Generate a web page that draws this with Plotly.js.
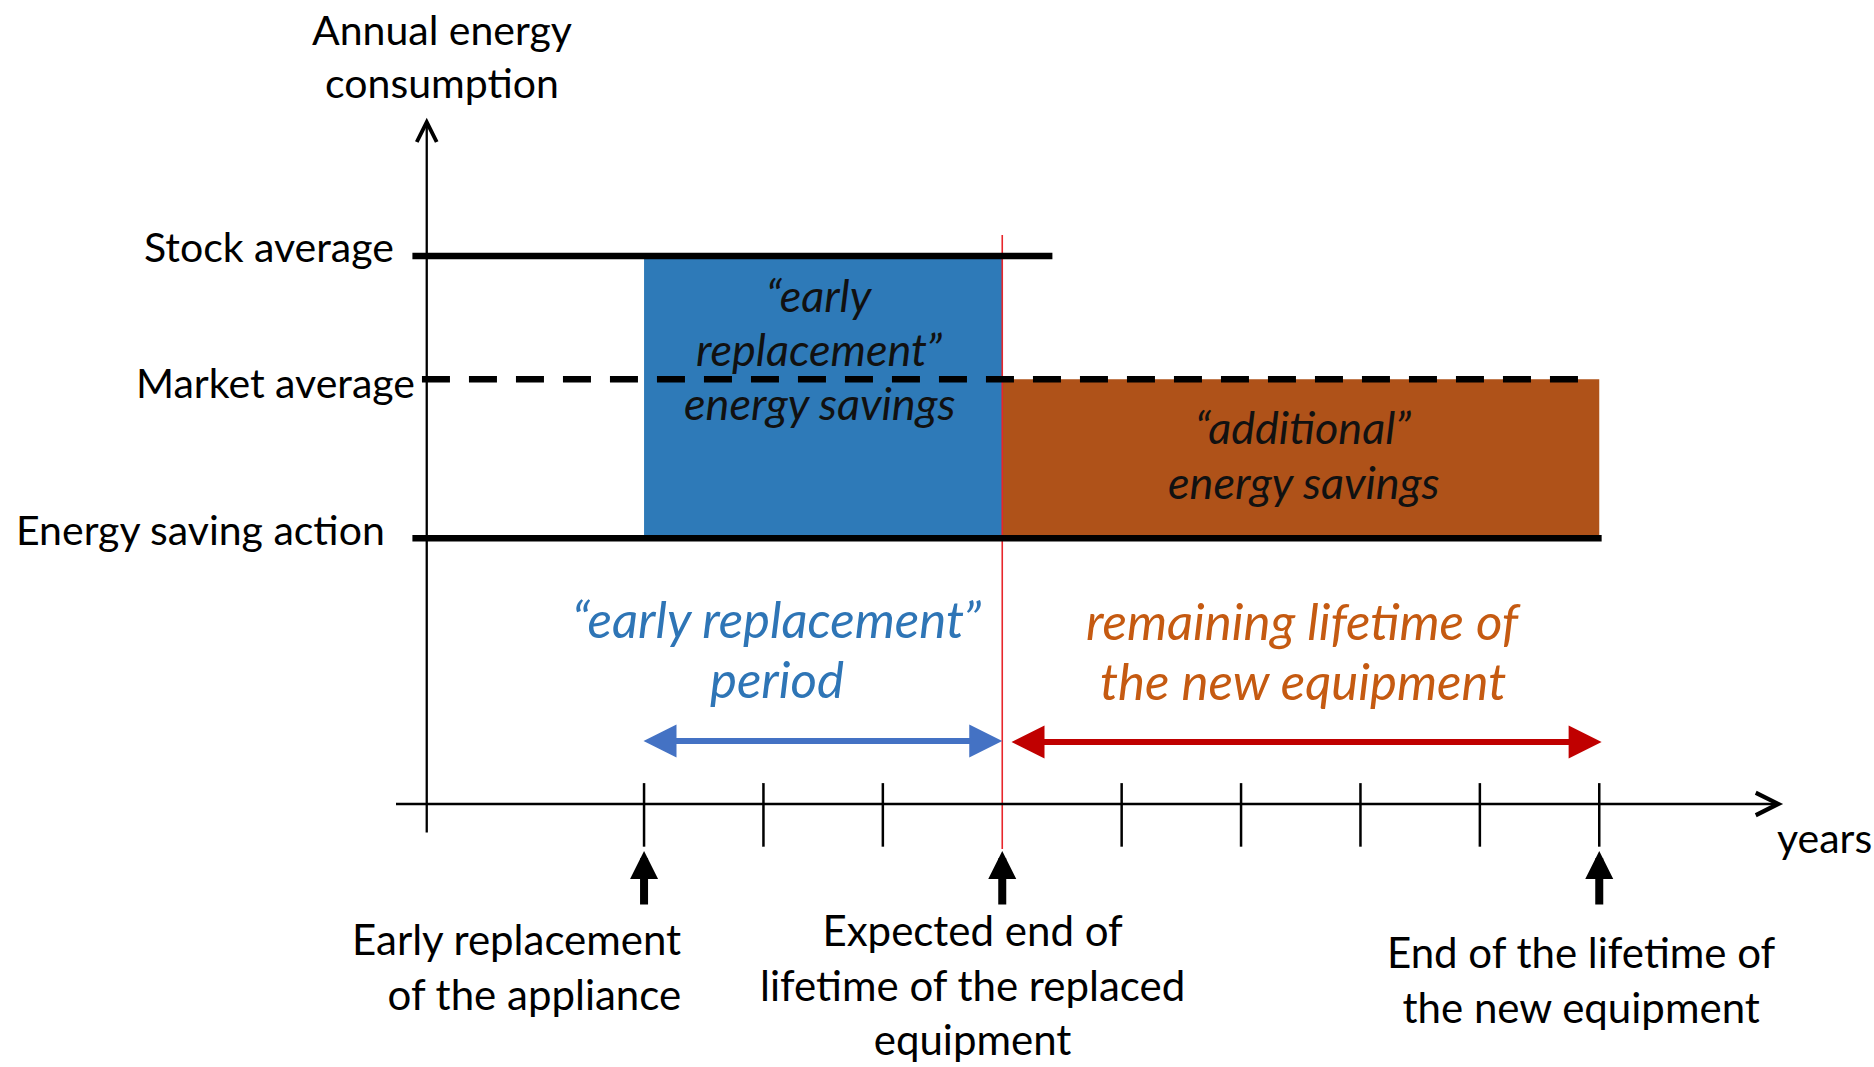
<!DOCTYPE html>
<html>
<head>
<meta charset="utf-8">
<script src="https://cdn.plot.ly/plotly-3.0.1.min.js"></script>
<style>
  html, body { margin: 0; padding: 0; background: #ffffff; }
  #chart { width: 1874px; height: 1067px; }
</style>
</head>
<body>
<div id="chart"></div>
<script>
// ---------------- DATA ----------------
// consumption levels (arbitrary units, stock average = 100)
const levelNames  = ['Stock average', 'Market average', 'Energy saving action'];
const levelValues = [100, 77.5, 48.5];
const levelStart  = [-0.94, -0.86, -0.94];   // years where each level line starts
const levelEnd    = [4.42, 8.88, 9.02];      // years where each level line ends

// time events (years)
const eventYears  = [1, 4, 9];
const eventLabels = ['Early replacement<br>of the appliance',
                     'Expected end of<br>lifetime of the replaced<br>equipment',
                     'End of the lifetime of<br>the new equipment'];
const tickYears   = [1, 2, 3, 5, 6, 7, 8, 9];

// axes extents
const yAxisAtYear = -0.82;
const yAxisRange  = [-5.5, 125.2];
const xAxisRange  = [-1.09, 10.54];

// text
const yAxisTitle  = 'Annual energy<br>consumption';
const xAxisTitle  = 'years';
const earlyBoxLines  = ['\u201cearly', 'replacement\u201d', 'energy savings'];
const addBoxLines    = ['\u201cadditional\u201d', 'energy savings'];
const earlyPeriodLines = ['\u201cearly replacement\u201d', 'period'];
const remainLines      = ['remaining lifetime of', 'the new equipment'];

// ---------------- DRAWING ----------------
const FONT = 'Lato, "Open Sans", sans-serif';
const stock = levelValues[0], market = levelValues[1], action = levelValues[2];
const tEarly = eventYears[0], tExp = eventYears[1], tEnd = eventYears[2];

const traces = [];
// blue "early replacement" area
traces.push({
  type: 'scatter', mode: 'lines', fill: 'toself',
  x: [tEarly, tExp, tExp, tEarly, tEarly],
  y: [action, action, stock, stock, action],
  line: {width: 0}, fillcolor: '#2E7AB8', hoverinfo: 'skip'
});
// orange "additional" area
traces.push({
  type: 'scatter', mode: 'lines', fill: 'toself',
  x: [tExp, tEnd, tEnd, tExp, tExp],
  y: [action, action, market, market, action],
  line: {width: 0}, fillcolor: '#AF5219', hoverinfo: 'skip'
});
// red vertical line at expected end of lifetime
traces.push({
  type: 'scatter', mode: 'lines',
  x: [tExp, tExp], y: [103.8, -8.2],
  line: {color: '#E8262B', width: 1.6}, hoverinfo: 'skip'
});
// level lines
levelValues.forEach((v, i) => {
  traces.push({
    type: 'scatter', mode: 'lines',
    x: [levelStart[i], levelEnd[i]], y: [v, v],
    line: {color: '#000000', width: 6.5, dash: i === 1 ? '28px,19px' : 'solid'},
    hoverinfo: 'skip'
  });
});
// tick marks
const tx = [], ty = [];
tickYears.forEach(t => { tx.push(t, t, null); ty.push(3.8, -7.8, null); });
traces.push({
  type: 'scatter', mode: 'lines', x: tx, y: ty,
  line: {color: '#000000', width: 2.5}, hoverinfo: 'skip'
});

const annotations = [];
// axes with arrow heads
annotations.push({
  x: yAxisAtYear, y: yAxisRange[1], ax: yAxisAtYear, ay: yAxisRange[0],
  xref: 'x', yref: 'y', axref: 'x', ayref: 'y', text: '', showarrow: true,
  arrowhead: 5, arrowsize: 1.7, arrowwidth: 2.3, arrowcolor: '#000000'
});
annotations.push({
  x: xAxisRange[1], y: 0, ax: xAxisRange[0], ay: 0,
  xref: 'x', yref: 'y', axref: 'x', ayref: 'y', text: '', showarrow: true,
  arrowhead: 5, arrowsize: 1.7, arrowwidth: 2.6, arrowcolor: '#000000'
});
// axis titles
annotations.push({
  x: -0.69, y: 136.4, xref: 'x', yref: 'y', text: yAxisTitle, showarrow: false,
  xanchor: 'center', yanchor: 'middle', align: 'center',
  font: {family: FONT, size: 41, color: '#000000'}
});
annotations.push({
  x: 10.47, y: -6.2, xref: 'x', yref: 'y', text: xAxisTitle, showarrow: false,
  xanchor: 'left', yanchor: 'middle',
  font: {family: FONT, size: 41, color: '#000000'}
});
// level labels
const labelShiftX = [-16, -5, -25];
const labelShiftY = [9, -3, 9];
levelNames.forEach((n, i) => {
  annotations.push({
    x: levelStart[i], y: levelValues[i], xref: 'x', yref: 'y', text: n,
    showarrow: false, xanchor: 'right', yanchor: 'middle',
    xshift: labelShiftX[i], yshift: labelShiftY[i],
    font: {family: FONT, size: 41, color: '#000000'}
  });
});
// helper for stacked italic text lines
function stackedLines(lines, xc, yTop, stepPx, size, color) {
  lines.forEach((ln, k) => {
    annotations.push({
      x: xc, y: yTop, xref: 'x', yref: 'y', text: '<i>' + ln + '</i>',
      showarrow: false, xanchor: 'center', yanchor: 'middle',
      yshift: -k * stepPx,
      font: {family: FONT, size: size, color: color}
    });
  });
}
// box texts
stackedLines(earlyBoxLines, 2.466, 92.9, 54, 45, '#111111');
stackedLines(addBoxLines, 6.52, 68.8, 55, 45, '#111111');
// period labels
stackedLines(earlyPeriodLines, 2.11, 33.8, 60, 51, '#2E75B6');
stackedLines(remainLines, 6.52, 33.4, 60, 51, '#C55A11');

// double-headed period arrows
annotations.push({
  x: tExp, y: 11.5, ax: 0.983, ay: 11.5,
  xref: 'x', yref: 'y', axref: 'x', ayref: 'y', text: '', showarrow: true,
  arrowside: 'end+start', arrowhead: 2, startarrowhead: 2,
  arrowsize: 1.1, startarrowsize: 1.1, arrowwidth: 6, arrowcolor: '#4472C4'
});
annotations.push({
  x: 9.02, y: 11.3, ax: 4.065, ay: 11.3,
  xref: 'x', yref: 'y', axref: 'x', ayref: 'y', text: '', showarrow: true,
  arrowside: 'end+start', arrowhead: 2, startarrowhead: 2,
  arrowsize: 1.1, startarrowsize: 1.1, arrowwidth: 6, arrowcolor: '#C00000'
});
// event arrows and labels
const evLabelX = [1.33, 3.75, 8.85];
const evLabelY = [-29.6, -33.0, -32.0];
const evAnchor = ['right', 'center', 'center'];
eventYears.forEach((t, i) => {
  annotations.push({
    x: t, y: -8.6, ax: t, ay: -18.6,
    xref: 'x', yref: 'y', axref: 'x', ayref: 'y', text: '', showarrow: true,
    arrowhead: 2, arrowsize: 0.7, arrowwidth: 8, arrowcolor: '#000000'
  });
  annotations.push({
    x: evLabelX[i], y: evLabelY[i], xref: 'x', yref: 'y', text: eventLabels[i],
    showarrow: false, xanchor: evAnchor[i], yanchor: 'middle', align: evAnchor[i],
    font: {family: FONT, size: 42, color: '#000000'}
  });
});

const layout = {
  width: 1874, height: 1067,
  margin: {l: 0, r: 0, t: 0, b: 0, pad: 0},
  paper_bgcolor: '#ffffff', plot_bgcolor: '#ffffff',
  showlegend: false, hovermode: false,
  xaxis: {range: [-4.394, 11.301], visible: false, fixedrange: true},
  yaxis: {range: [-48.0, 146.7], visible: false, fixedrange: true},
  annotations: annotations
};

Plotly.newPlot('chart', traces, layout, {displayModeBar: false, staticPlot: true});
</script>
</body>
</html>
